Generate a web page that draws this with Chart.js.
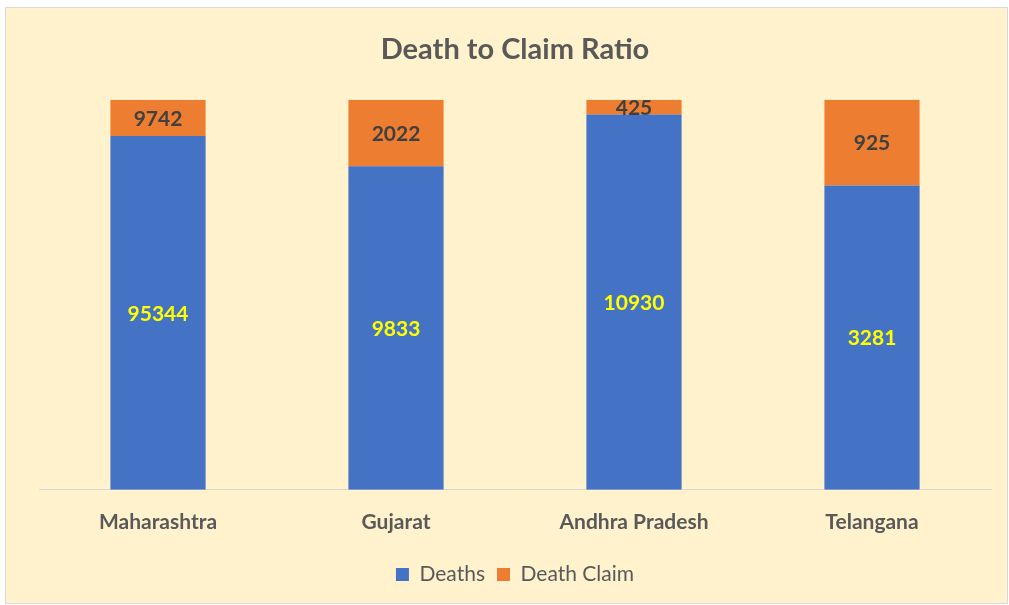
<!DOCTYPE html>
<html>
<head>
<meta charset="utf-8">
<script src="https://cdn.jsdelivr.net/npm/chart.js@4/dist/chart.umd.min.js"></script>
<style>
    body { margin: 0; background: #ffffff; }
    #box {
        position: absolute; left: 5px; top: 7px;
        width: 1001px; height: 595px;
        background: #FFF2CC; border: 1px solid #d9d9d9;
    }
</style>
</head>
<body>
<div id="box"><canvas id="chart"></canvas></div>
<script>
const states = ["Maharashtra", "Gujarat", "Andhra Pradesh", "Telangana"],
    deaths = [95344, 9833, 10930, 3281],
    claims = [9742, 2022, 425, 925],
    font = "Lato, 'Open Sans', sans-serif";

function share(arr) {
    return arr.map((v, i) => v / (deaths[i] + claims[i]) * 100);
}

const labelPlugin = {
    id: "labels",
    afterDatasetsDraw(chart) {
        const ctx = chart.ctx;
        ctx.save();
        ctx.textAlign = "center";
        ctx.textBaseline = "middle";
        ctx.font = "bold 21px " + font;
        chart.data.datasets.forEach((ds, d) => {
            chart.getDatasetMeta(d).data.forEach((bar, i) => {
                const p = bar.getProps(["x", "y", "base"], true);
                ctx.fillStyle = ds.labelColor;
                ctx.fillText(ds.raw[i], p.x, (p.y + p.base) / 2 + 1);
            });
        });
        ctx.restore();
    }
};

new Chart(document.getElementById("chart"), {
    type: "bar",
    data: {
        labels: states,
        datasets: [{
            label: "Deaths",
            data: share(deaths),
            raw: deaths,
            labelColor: "#FFFF00",
            backgroundColor: "#4472C4",
            barPercentage: 0.4,
            categoryPercentage: 1
        }, {
            label: "Death Claim",
            data: share(claims),
            raw: claims,
            labelColor: "#404040",
            backgroundColor: "#ED7D31",
            barPercentage: 0.4,
            categoryPercentage: 1
        }]
    },
    plugins: [labelPlugin],
    options: {
        responsive: true,
        maintainAspectRatio: false,
        animation: false,
        layout: { padding: { left: 33, right: 16, top: 0, bottom: 8 } },
        scales: {
            x: {
                stacked: true,
                grid: { display: false },
                border: { color: "#d9d9d9", width: 1 },
                ticks: { color: "#595959", font: { family: font, size: 21, weight: "bold" }, padding: 12 },
                afterFit: (scale) => { scale.height += 5; }
            },
            y: { stacked: true, display: false, min: 0, max: 100 }
        },
        plugins: {
            title: {
                display: true,
                text: "Death to Claim Ratio",
                color: "#595959",
                font: { family: font, size: 29, weight: "bold" },
                padding: { top: 24, bottom: 33 }
            },
            legend: {
                position: "bottom",
                labels: {
                    color: "#595959",
                    font: { family: font, size: 21 },
                    boxWidth: 13, boxHeight: 13,
                    padding: 12
                }
            },
            tooltip: { enabled: false }
        }
    }
});
</script>
</body>
</html>
